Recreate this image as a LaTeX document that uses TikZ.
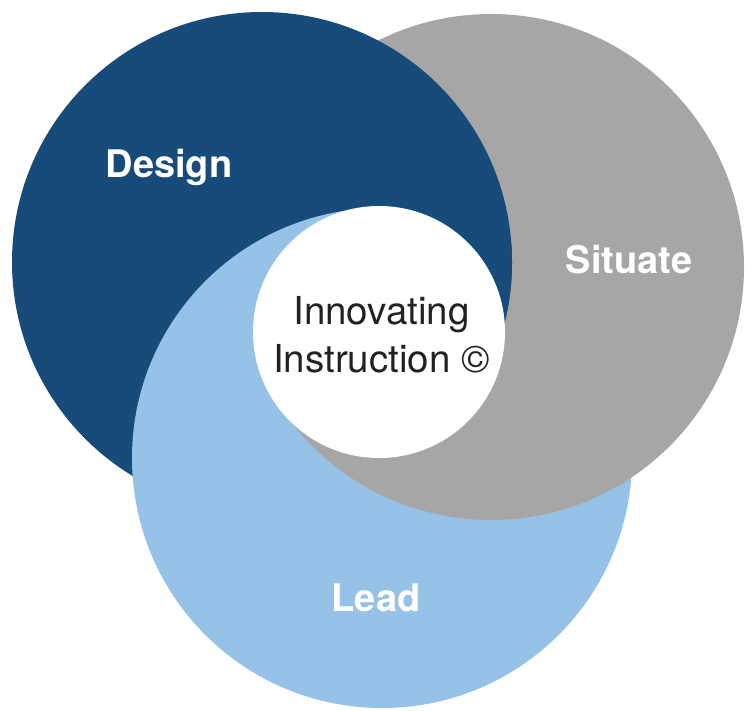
\documentclass[tikz,border=0pt]{standalone}
\usepackage{fontspec}
\setmainfont{TeX Gyre Heros}
\definecolor{dblue}{HTML}{174C7A}
\definecolor{sgray}{HTML}{A6A6A6}
\definecolor{lblue}{HTML}{97C2E8}
\definecolor{ink}{HTML}{222222}
\begin{document}
\begin{tikzpicture}[x=1pt,y=-1pt,
  lbl/.style={font=\fontsize{38}{44}\selectfont\bfseries, text=white, inner sep=0pt, anchor=base},
  core/.style={font=\fontsize{38.5}{48}\selectfont, text=ink, inner sep=0pt, anchor=base, align=center}]
\useasboundingbox (0,0) rectangle (752,710);
\coordinate (cD) at (262,262);
\coordinate (cG) at (491,267);
\coordinate (cL) at (382,458);
\coordinate (cW) at (379,332);
% base layers
\fill[lblue] (cL) circle (250);
\fill[sgray] (cG) circle (253);
\fill[dblue] (cD) circle (250);
% light over dark (left part)
\begin{scope}
  \clip (cD) circle (251.5);
  \clip (0,0) rectangle (372,710)
        (372,0) rectangle (395,440)
        (372,340) rectangle (752,440);
  \fill[lblue] (cL) circle (250);
\end{scope}
% gray over light/dark below the centre
\begin{scope}
  \clip (cD) circle (251.5);
  \clip (cL) circle (250);
  \clip (285,400) rectangle (445,500);
  \fill[sgray] (cG) circle (253);
\end{scope}
% dark over light/gray right of the centre
\begin{scope}
  \clip (cG) circle (253);
  \clip (cL) circle (250);
  \clip (395,150) rectangle (530,340);
  \fill[dblue] (cD) circle (250);
\end{scope}
% centre
\fill[white] (cW) circle (126);
\node[lbl] (design) at (169,177) {Design};
\node[lbl] (situate) at (629,273) {Situate};
\node[lbl] (lead) at (376,611) {Lead};
\node[core] (centre) at (381.5,372) {Innovating\\Instruction ©};
\end{tikzpicture}
\end{document}
